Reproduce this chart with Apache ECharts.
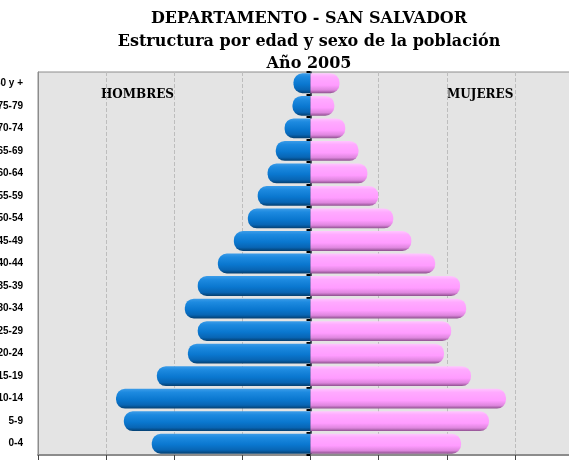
<!DOCTYPE html>
<html>
<head>
<meta charset="utf-8">
<script src="https://cdn.jsdelivr.net/npm/echarts@6/dist/echarts.min.js"></script>
<style>
html,body{margin:0;padding:0;background:#fff;}
#chart{width:569px;height:472px;}
</style>
</head>
<body>
<div id="chart"></div>
<script>
// Data (percent of total population), bottom to top
var categories = ['0-4','5-9','10-14','15-19','20-24','25-29','30-34','35-39','40-44','45-49','50-54','55-59','60-64','65-69','70-74','75-79','80 y +'];
var hombres = [4.66,5.48,5.71,4.51,3.60,3.31,3.69,3.31,2.72,2.25,1.84,1.55,1.26,1.02,0.76,0.53,0.50];
var mujeres = [4.42,5.24,5.74,4.71,3.92,4.13,4.57,4.39,3.66,2.96,2.43,1.99,1.67,1.41,1.02,0.70,0.85];
var titleLines = ['DEPARTAMENTO - SAN SALVADOR','Estructura por edad y sexo de la población','Año 2005'];
var sideLabels = ['HOMBRES','MUJERES'];

var chart = echarts.init(document.getElementById('chart'), null, {renderer:'canvas'});

var blueGrad = new echarts.graphic.LinearGradient(0,0,0,1,[
  {offset:0,color:'#3c9ce8'},{offset:0.18,color:'#1d8ae0'},{offset:0.55,color:'#0a77cf'},
  {offset:0.82,color:'#0865b4'},{offset:1,color:'#043f70'}]);
var pinkGrad = new echarts.graphic.LinearGradient(0,0,0,1,[
  {offset:0,color:'#ffc6ff'},{offset:0.18,color:'#ffaaff'},{offset:0.6,color:'#ff9cff'},
  {offset:0.84,color:'#de86de'},{offset:1,color:'#8e508e'}]);

var option = {
  animation:false,
  backgroundColor:'#ffffff',
  title:{
    text: titleLines.join('\n'),
    left: 304, top: 3, textAlign:'center',
    textStyle:{fontFamily:'"DejaVu Serif", serif', fontWeight:'bold', fontSize:16, lineHeight:22.5, color:'#000'}
  },
  graphic:[
    {type:'text', left:101, top:89, style:{text:sideLabels[0], font:'bold 12px "DejaVu Serif", serif', fill:'#000'}},
    {type:'text', left:447, top:89, style:{text:sideLabels[1], font:'bold 12px "DejaVu Serif", serif', fill:'#000'}}
  ],
  grid:{left:38, right:-14, top:72, bottom:17, outerBoundsMode:'none', show:true, backgroundColor:'#e4e4e4', borderColor:'#8c8c8c', borderWidth:1, containLabel:false},
  xAxis:{
    type:'value', min:-8, max:8, interval:2,
    axisLabel:{show:false},
    axisLine:{show:true, onZero:false, lineStyle:{color:'#8c8c8c', width:2}},
    axisTick:{show:true, length:5, lineStyle:{color:'#444'}},
    splitLine:{show:true, lineStyle:{color:'#bdbdbd', type:'dashed', width:1}}
  },
  yAxis:[
    {
      type:'category', data:categories, position:'left',
      axisLine:{show:true, onZero:false, lineStyle:{color:'#8c8c8c', width:1}},
      axisTick:{show:false},
      axisLabel:{margin:15, fontFamily:'"Liberation Sans", Arial, sans-serif', fontWeight:'bold', fontSize:10, color:'#000'}
    },
    {
      type:'category', data:categories, position:'left',
      axisLine:{show:true, onZero:true, lineStyle:{color:'#1a2a3a', width:1.5}},
      axisTick:{show:true, length:4, lineStyle:{color:'#000', width:2}},
      axisLabel:{show:false},
      splitLine:{show:false}
    }
  ],
  series:[
    {
      name:'Hombres', type:'bar', stack:'p', yAxisIndex:0,
      data: hombres.map(function(v){return -v;}),
      barWidth:'88%',
      itemStyle:{color:blueGrad, borderRadius:[9,0,0,9]}
    },
    {
      name:'Mujeres', type:'bar', stack:'p', yAxisIndex:0,
      data: mujeres,
      barWidth:'88%',
      itemStyle:{color:pinkGrad, borderRadius:[0,9,9,0]}
    }
  ]
};
chart.setOption(option);
</script>
</body>
</html>
